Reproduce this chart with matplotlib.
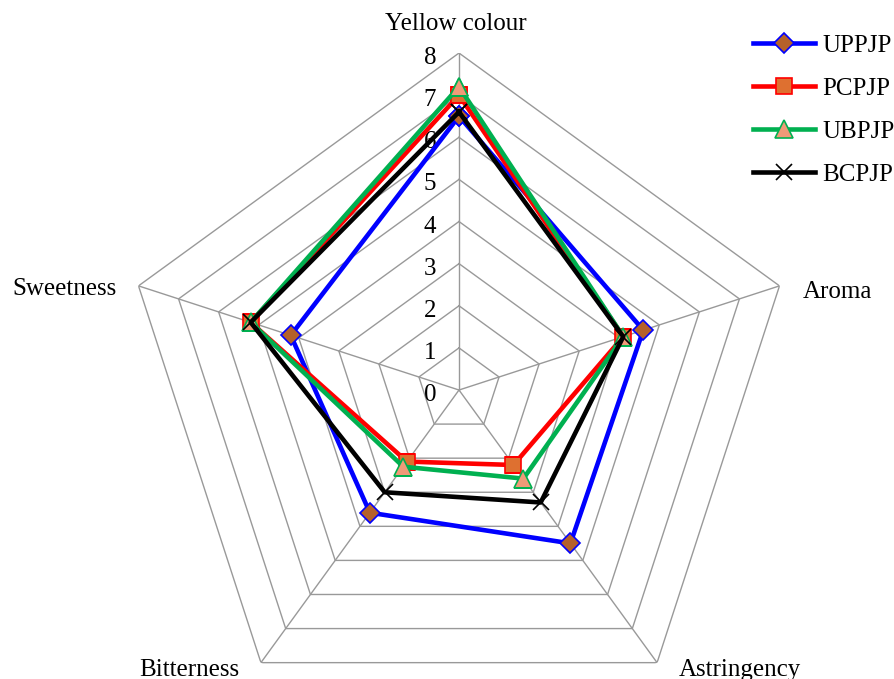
import numpy as np
import matplotlib.pyplot as plt

# ------------------------
# Data
# ------------------------
categories = ["Yellow colour", "Aroma", "Astringency", "Bitterness", "Sweetness"]
uppjp = [6.5, 4.6, 4.5, 3.6, 4.2]
pcpjp = [7.0, 4.1, 2.2, 2.1, 5.2]
ubpjp = [7.2, 4.1, 2.6, 2.25, 5.2]
bcpjp = [6.6, 4.1, 3.3, 3.0, 5.2]
ring_values = [1, 2, 3, 4, 5, 6, 7, 8]
tick_labels = ["0", "1", "2", "3", "4", "5", "6", "7", "8"]

plt.rcParams['font.family'] = ['Liberation Serif', 'DejaVu Serif']

fig = plt.figure(figsize=(8.95, 6.79), dpi=100)
ax = fig.add_axes([0.1363, -0.0707, 0.7531, 0.9926], projection='polar')
ax.set_theta_offset(np.pi / 2)
ax.set_theta_direction(-1)
ax.set_ylim(0, 8)
ax.grid(False)
ax.spines['polar'].set_visible(False)
ax.set_xticks([])
ax.set_yticks([])
ax.patch.set_alpha(0)

angles = np.linspace(0, 2 * np.pi, len(categories), endpoint=False)
closed = np.concatenate([angles, angles[:1]])

# pentagon grid
for r in ring_values:
    ax.plot(closed, [r] * len(closed), color='#999999', lw=1.0, zorder=1)
for a in angles:
    ax.plot([a, a], [0, 8], color='#999999', lw=1.0, zorder=1)

# radial tick labels
for i, lab in enumerate(tick_labels):
    ax.annotate(lab, xy=(0, i), xytext=(-29, -5), textcoords='offset pixels',
                ha='center', va='center', fontsize=18)

# category labels (offset in pixels, alignment)
label_pos = [((-3, 29), 'center'), ((23, -6), 'left'), ((22, -7), 'left'),
             ((-22, -7), 'right'), ((-22, -3), 'right')]
for a, name, (off, ha) in zip(angles, categories, label_pos):
    ax.annotate(name, xy=(a, 8), xytext=off, textcoords='offset pixels',
                ha=ha, va='center', fontsize=18)

series = [
    ("UPPJP", uppjp, '#0000FF', 'D', '#B5612A', '#0000FF', 10.5),
    ("PCPJP", pcpjp, '#FF0000', 's', '#DE7030', '#FF0000', 12),
    ("UBPJP", ubpjp, '#00B050', '^', '#F09A78', '#00B050', 13),
    ("BCPJP", bcpjp, '#000000', 'x', 'none', '#000000', 11),
]
for name, vals, col, mk, fc, ec, ms in series:
    v = vals + vals[:1]
    ax.plot(closed, v, color=col, lw=3.3, marker=mk, markersize=ms,
            markerfacecolor=fc, markeredgecolor=ec, markeredgewidth=1.2,
            label=name, zorder=3)

leg = fig.legend(loc='upper right', bbox_to_anchor=(1.025, 0.982), frameon=False,
                 fontsize=18, handlelength=2.5, labelspacing=0.82,
                 handletextpad=0.3)

plt.savefig("out.png", dpi=100)
